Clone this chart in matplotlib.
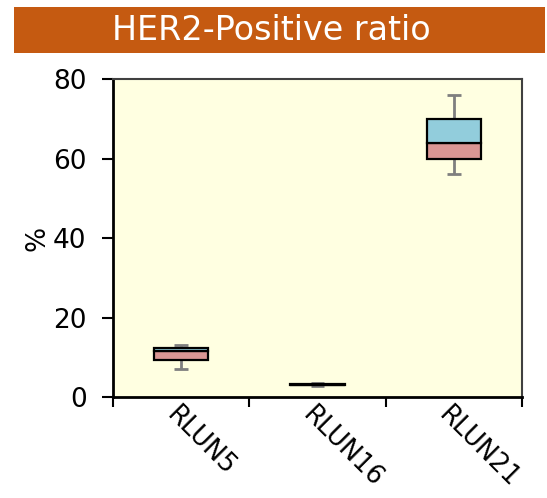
import numpy as np
import matplotlib
matplotlib.use("Agg")
import matplotlib.pyplot as plt
from matplotlib.patches import Rectangle

# data
groups = ["RLUN5", "RLUN16", "RLUN21"]
mins = [7.0, 2.8, 56.0]
q1 = [9.2, 2.9, 60.0]
medians = [11.6, 3.1, 64.0]
q3 = [12.4, 3.2, 70.0]
maxs = [13.0, 3.4, 76.0]
yticks = [0, 20, 40, 60, 80]

plt.rcParams['font.family'] = ['DejaVu Sans']

fig = plt.figure(figsize=(5.47, 4.98), dpi=100)

# title banner
fig.patches.append(Rectangle((14 / 547, 1 - 53 / 498), (545 - 14) / 547, 46 / 498,
                             transform=fig.transFigure, facecolor="#C55A11",
                             edgecolor="none", zorder=0))
fig.text(271 / 547, 1 - 31 / 498, "HER2-Positive ratio", color="white",
         fontsize=24, ha="center", va="center")

ax = fig.add_axes([113 / 547, 1 - 397 / 498, (522 - 113) / 547, (397 - 79) / 498])
ax.set_facecolor("#FFFFE1")

x = np.arange(len(groups))
w = 0.4
lower = np.array(medians) - np.array(q1)
upper = np.array(q3) - np.array(medians)

# whiskers
ax.vlines(x, mins, q1, color="#7F7F7F", lw=2, zorder=2)
ax.vlines(x, q3, maxs, color="#7F7F7F", lw=2, zorder=2)
ax.hlines(mins, x - 0.05, x + 0.05, color="#7F7F7F", lw=2, zorder=2)
ax.hlines(maxs, x - 0.05, x + 0.05, color="#7F7F7F", lw=2, zorder=2)

# boxes
ax.bar(x, lower, w, bottom=q1, color="#DA9694", edgecolor="black", lw=1.6, zorder=3)
ax.bar(x, upper, w, bottom=medians, color="#92CDDC", edgecolor="black", lw=1.6, zorder=3)

ax.set_xlim(-0.5, len(groups) - 0.5)
ax.set_ylim(0, 80)
ax.set_yticks(yticks)
ax.tick_params(axis="y", labelsize=19, length=8, width=1.5, direction="out", pad=11)

# category boundary ticks
ax.set_xticks(np.arange(-0.5, len(groups), 1.0))
ax.set_xticklabels([])
ax.tick_params(axis="x", length=7, width=1.5, direction="out")
for xi, name in zip(x, groups):
    ax.text(xi - 0.08, -3.5, name, rotation=-45, rotation_mode="anchor",
            ha="left", va="center", fontsize=18.5, transform=ax.transData)

ax.set_ylabel("%", fontsize=19, labelpad=2)

for side in ["left", "bottom"]:
    ax.spines[side].set_color("black")
    ax.spines[side].set_linewidth(2)
for side in ["top", "right"]:
    ax.spines[side].set_color("#404040")
    ax.spines[side].set_linewidth(1.5)

fig.savefig("out.png", dpi=100)
